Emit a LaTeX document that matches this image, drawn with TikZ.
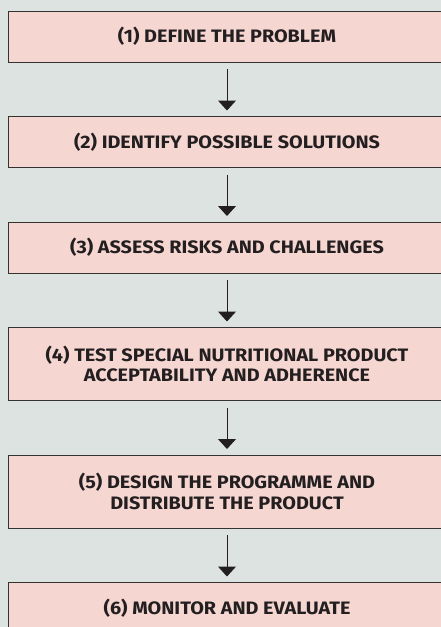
\documentclass[tikz,border=0pt]{standalone}
\usepackage{fontspec}
\setmainfont{Fira Sans}[FakeStretch=1.1]
\usepackage{tikz}
\usetikzlibrary{positioning}
\usetikzlibrary{arrows.meta}
\definecolor{panelgrey}{RGB}{220,227,225}
\definecolor{boxpink}{RGB}{245,214,209}
\definecolor{boxline}{RGB}{51,51,51}
\definecolor{inkdark}{RGB}{35,31,32}
\newcommand{\widthstep}{437pt}
\newcommand{\heightstep}{51pt}
\newcommand{\heighttwoline}{73pt}
\tikzset{
    stepbox/.style={draw=boxline, line width=1pt, fill=boxpink, rectangle,
        minimum width=\widthstep, minimum height=\heightstep, inner sep=0pt, outer sep=0pt,
        align=center, text=inkdark, font=\bfseries\fontsize{18}{20.5}\selectfont},
    twoline/.style={stepbox, minimum height=\heighttwoline},
    flow/.style={-{Triangle[width=18pt, length=10pt]}, line width=1pt, inkdark,
        shorten <=7pt, shorten >=6pt}
}
\begin{document}
\begin{tikzpicture}[node distance=54.5pt]
        \useasboundingbox (0,0) rectangle (441pt,-627pt);
        \fill[panelgrey] (0,0) rectangle (441pt,-627pt);

        \node[stepbox] (s1) at (227pt,-36.5pt) {(1) DEFINE THE PROBLEM};
        \node[stepbox, below=of s1] (s2) {(2) IDENTIFY POSSIBLE SOLUTIONS};
        \node[stepbox, below=of s2] (s3) {(3) ASSESS RISKS AND CHALLENGES};
        \node[twoline, below=of s3] (s4) {(4) TEST SPECIAL NUTRITIONAL PRODUCT\\ACCEPTABILITY AND ADHERENCE};
        \node[twoline, below=of s4] (s5) {(5) DESIGN THE PROGRAMME AND\\DISTRIBUTE THE PRODUCT};
        \node[stepbox, below=of s5] (s6) {(6) MONITOR AND EVALUATE};

        \foreach \a/\b in {s1/s2, s2/s3, s3/s4, s4/s5, s5/s6}
            \draw[flow] (\a) -- (\b);
    \end{tikzpicture}
\end{document}
